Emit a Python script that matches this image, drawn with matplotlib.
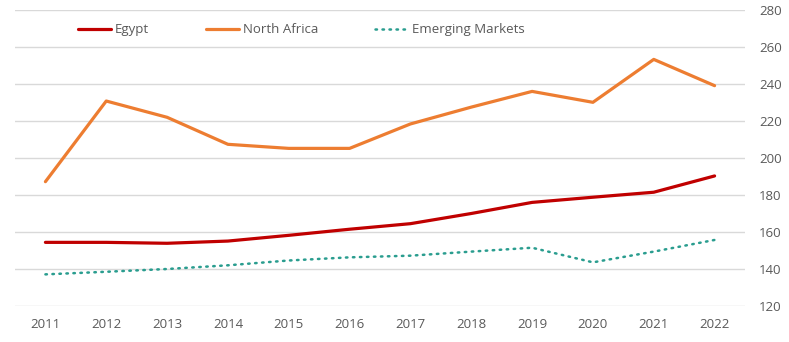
import matplotlib.pyplot as plt
import numpy as np

years = ['2011', '2012', '2013', '2014', '2015', '2016',
         '2017', '2018', '2019', '2020', '2021', '2022']
egypt = [154.4, 154.4, 153.9, 155.1, 158.2, 161.5, 164.5, 170.0, 176.0, 178.8, 181.5, 190.3]
north_africa = [187.2, 230.8, 222.0, 207.4, 205.2, 205.2, 218.4, 227.5, 236.0, 230.1, 253.3, 239.1]
emerging = [137.1, 138.5, 140.0, 142.0, 144.6, 146.3, 147.2, 149.4, 151.5, 143.6, 149.4, 155.7]
y_ticks = [120, 140, 160, 180, 200, 220, 240, 260, 280]

plt.rcParams['font.family'] = ['Open Sans', 'DejaVu Sans']

fig = plt.figure(figsize=(7.89, 3.42), dpi=100, facecolor='white')
ax = fig.add_axes([15 / 789, 1 - 306 / 342, (745 - 15) / 789, (306 - 10) / 342])

x = np.arange(len(years))
ax.plot(x, egypt, color='#C00000', linewidth=2.3, label='Egypt', solid_capstyle='round', zorder=3)
ax.plot(x, north_africa, color='#ED7D31', linewidth=2.3, label='North Africa', solid_capstyle='round', zorder=3)
ax.plot(x, emerging, color='#2A9D8F', linewidth=1.8, linestyle=(0, (0.6, 2.2)),
        dash_capstyle='round', label='Emerging Markets', zorder=3)

ax.set_xlim(-0.5, len(years) - 0.5)
ax.set_ylim(120, 280)
ax.set_xticks(x)
ax.set_xticklabels(years)
ax.set_yticks(y_ticks)
ax.yaxis.tick_right()
ax.tick_params(axis='both', length=0, labelsize=9.5, colors='#595959')
ax.tick_params(axis='y', pad=10)
ax.tick_params(axis='x', pad=9)
ax.grid(True, axis='y', color='#D9D9D9', linewidth=1)
ax.set_axisbelow(True)
for s in ax.spines.values():
    s.set_visible(False)

leg = ax.legend(loc='upper center', bbox_to_anchor=(0.392, 0.995), ncol=3, frameon=False,
                fontsize=9.5, handlelength=2.5, handletextpad=0.3, columnspacing=4.3)
for t in leg.get_texts():
    t.set_color('#595959')

fig.savefig('out.png', dpi=100, facecolor='white')
